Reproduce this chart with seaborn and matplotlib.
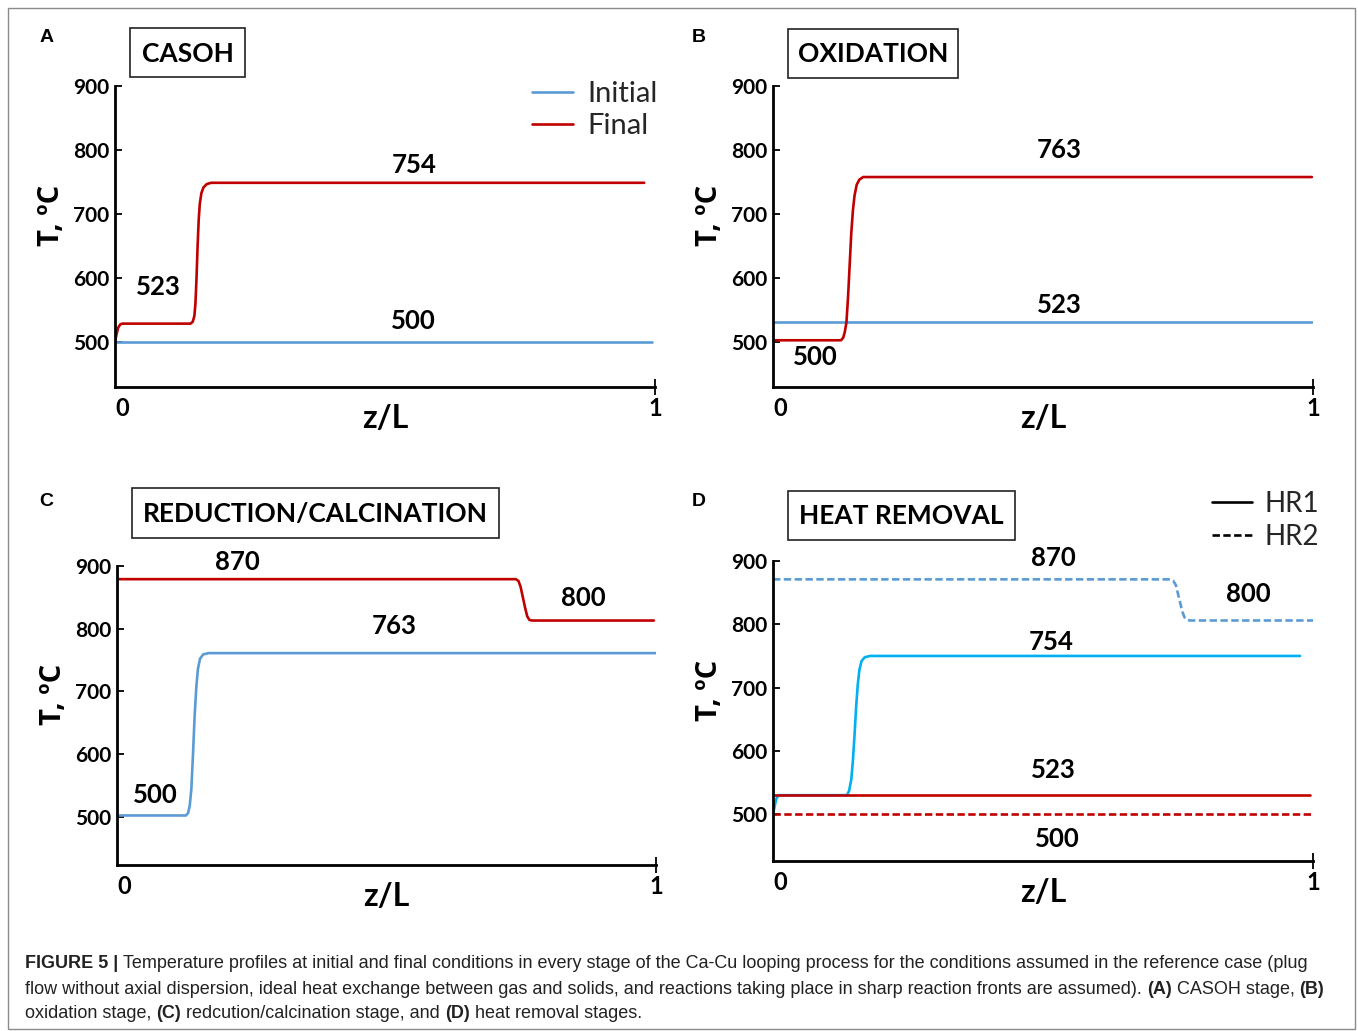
import numpy as np
import pandas as pd
import matplotlib
matplotlib.use("Agg")
import matplotlib.pyplot as plt
import seaborn as sns
from matplotlib.lines import Line2D
from matplotlib.patches import Rectangle
from matplotlib.transforms import IdentityTransform, ScaledTranslation

# ---------------- data ----------------
# Panel A : CASOH
a_initial_z = [0.0, 0.995]
a_initial_T = [500, 500]
a_final_z = [0.0, 0.003, 0.006, 0.010, 0.014, 0.140, 0.144, 0.147, 0.149, 0.151, 0.153,
             0.155, 0.157, 0.160, 0.164, 0.170, 0.178, 0.980]
a_final_T = [500, 512, 522, 527, 528, 528, 531, 540, 560, 600, 650,
             690, 715, 732, 741, 746, 748, 748]

# Panel B : OXIDATION
b_initial_z = [0.0, 0.998]
b_initial_T = [530, 530]
b_final_z = [0.0, 0.126, 0.130, 0.133, 0.136, 0.139, 0.142, 0.145, 0.148, 0.151, 0.155,
             0.160, 0.167, 0.998]
b_final_T = [502, 502, 506, 515, 530, 570, 620, 670, 705, 728, 745,
             753, 757, 757]

# Panel C : REDUCTION/CALCINATION
c_initial_z = [0.0, 0.128, 0.132, 0.135, 0.138, 0.141, 0.144, 0.147, 0.150, 0.154, 0.160,
               0.170, 1.0]
c_initial_T = [502, 502, 506, 518, 545, 600, 660, 705, 735, 752, 759,
               761, 761]
c_final_z = [0.0, 0.740, 0.745, 0.749, 0.753, 0.757, 0.761, 0.765, 0.770, 0.996]
c_final_T = [879, 879, 876, 866, 850, 834, 820, 814, 813, 813]

# Panel D : HEAT REMOVAL
d_hr1_initial_z = [0.0, 0.003, 0.006, 0.010, 0.137, 0.141, 0.145, 0.148, 0.151, 0.154,
                   0.157, 0.160, 0.164, 0.170, 0.180, 0.976]
d_hr1_initial_T = [500, 512, 524, 530, 530, 537, 555, 585, 625, 670,
                   705, 728, 742, 748, 750, 750]
d_hr1_final_z = [0.0, 0.995]
d_hr1_final_T = [530, 530]
d_hr2_initial_z = [0.0, 0.735, 0.741, 0.746, 0.750, 0.754, 0.758, 0.762, 0.767, 0.772, 1.0]
d_hr2_initial_T = [871, 871, 869, 862, 848, 834, 820, 811, 807, 806, 806]
d_hr2_final_z = [0.0, 1.0]
d_hr2_final_T = [500, 500]

panel_titles = ["CASOH", "OXIDATION", "REDUCTION/CALCINATION", "HEAT REMOVAL"]
panel_letters = ["A", "B", "C", "D"]
y_ticks = [500, 600, 700, 800, 900]
x_tick_labels = ["0", "1"]
legend_a_labels = ["Initial", "Final"]
legend_d_labels = ["HR1", "HR2"]

# annotations (text, z, T)
a_notes = [("754", 0.554, 776), ("523", 0.080, 585), ("500", 0.552, 532)]
b_notes = [("763", 0.531, 799), ("523", 0.531, 557), ("500", 0.078, 476)]
c_notes = [("870", 0.223, 906), ("800", 0.865, 849), ("763", 0.514, 804), ("500", 0.071, 535)]
d_notes = [("870", 0.519, 905), ("800", 0.880, 848), ("754", 0.515, 772), ("523", 0.520, 569), ("500", 0.527, 461)]

BLUE = "#5b9bd5"
RED = "#c00000"
CYAN = "#00b0f0"

# ---------------- figure ----------------
W, H = 1358, 1031
sns.set_theme(style="white")
plt.rcParams["font.family"] = ["Lato", "DejaVu Sans"]
fig = plt.figure(figsize=(W / 100, H / 100), dpi=100)
fig.patch.set_facecolor("white")


def fx(px):
    return px / W


def fy(py):
    return 1 - py / H


# axes geometry in pixels: left, right, top(900), bottom(x-axis), ymin
geo = [
    (115, 655, 85.5, 387, 429),
    (773, 1313, 85.5, 387, 429),
    (117, 656, 566, 865, 423),
    (773, 1313, 561, 861, 426),
]
axes = []
for (l, r, t, b, ymin) in geo:
    ax = fig.add_axes([fx(l), fy(b), (r - l) / W, (b - t) / H])
    ax.set_xlim(0, 1)
    ax.set_ylim(ymin, 900)
    axes.append(ax)

LW = 1.9


def draw(ax, z, T, color, ls="-"):
    df = pd.DataFrame({"z": z, "T": T})
    sns.lineplot(data=df, x="z", y="T", ax=ax, color=color, linewidth=LW,
                 linestyle=ls, legend=False, sort=False, estimator=None)
    ax.lines[-1].set_solid_joinstyle("round")


dash = (0, (2.8, 1.3))
draw(axes[0], a_initial_z, a_initial_T, BLUE)
draw(axes[0], a_final_z, a_final_T, RED)
draw(axes[1], b_initial_z, b_initial_T, BLUE)
draw(axes[1], b_final_z, b_final_T, RED)
draw(axes[2], c_initial_z, c_initial_T, BLUE)
draw(axes[2], c_final_z, c_final_T, RED)
draw(axes[3], d_hr2_initial_z, d_hr2_initial_T, BLUE, dash)
draw(axes[3], d_hr1_initial_z, d_hr1_initial_T, CYAN)
draw(axes[3], d_hr1_final_z, d_hr1_final_T, RED)
draw(axes[3], d_hr2_final_z, d_hr2_final_T, RED, dash)

notes = [a_notes, b_notes, c_notes, d_notes]
ylab_y = [0.57, 0.57, 0.57, 0.57]
for i, ax in enumerate(axes):
    for s in ["top", "right"]:
        ax.spines[s].set_visible(False)
    for s in ["left", "bottom"]:
        ax.spines[s].set_color("black")
        ax.spines[s].set_linewidth(2.0)
    ax.set_yticks(y_ticks)
    ax.set_yticklabels([str(v) for v in y_ticks], fontsize=15, fontweight="bold")
    ax.set_xticks([0, 1])
    ax.set_xticklabels(x_tick_labels, fontsize=17, fontweight="bold")
    ax.tick_params(axis="y", direction="in", length=5, width=1.3, pad=4, colors="black", left=True)
    ax.tick_params(axis="x", direction="inout", length=12, width=1.3, pad=1, colors="black", bottom=True)
    ax.xaxis.get_major_ticks()[0].tick1line.set_visible(False)
    lab0 = ax.get_xticklabels()[0]
    lab0.set_transform(lab0.get_transform() + ScaledTranslation(7 / 100, 0, fig.dpi_scale_trans))
    ax.set_xlabel("z/L", fontsize=23, fontweight="bold", color="black")
    ax.xaxis.set_label_coords(0.5, -0.058)
    ax.set_ylabel("T, ºC", fontsize=21, fontweight="bold", color="black",
                  family=["Open Sans", "DejaVu Sans"])
    ax.yaxis.set_label_coords(-0.091, ylab_y[i])
    ax.grid(False)
    for (txt, zx, ty) in notes[i]:
        ax.text(zx, ty, txt, fontsize=18.5, ha="center", va="center", color="black",
                fontweight="bold")

# title boxes (pixel rects)
boxes = [(130, 28, 245, 77), (788, 29, 958, 78), (132, 488, 499, 538), (788, 491, 1015, 540)]
for (x0, y0, x1, y1), title in zip(boxes, panel_titles):
    fig.patches.append(Rectangle((fx(x0), fy(y1)), (x1 - x0) / W, (y1 - y0) / H,
                                 transform=fig.transFigure, facecolor="white",
                                 edgecolor="#222222", linewidth=1.2))
    fig.text(fx((x0 + x1) / 2), fy((y0 + y1) / 2 + 1), title, fontsize=19, fontweight="bold",
             ha="center", va="center", color="black")

# panel letters
for (px, py), letter in zip([(47, 37), (699, 37), (46, 501), (699, 501)], panel_letters):
    fig.text(fx(px), fy(py), letter, fontsize=14, fontweight="bold", ha="center", va="center",
             family=["Liberation Sans", "DejaVu Sans"], color="black")

# legends
ha = [Line2D([], [], color=BLUE, lw=LW), Line2D([], [], color=RED, lw=LW)]
axes[0].legend(ha, legend_a_labels, loc="upper left", bbox_to_anchor=(fx(532), fy(81)),
               bbox_transform=fig.transFigure, frameon=False, fontsize=21,
               handlelength=1.4, handletextpad=0.5, labelspacing=0.2, borderpad=0,
               borderaxespad=0)
hd = [Line2D([], [], color="black", lw=LW), Line2D([], [], color="black", lw=LW, linestyle=dash)]
axes[3].legend(hd, legend_d_labels, loc="upper left", bbox_to_anchor=(fx(1212), fy(491)),
               bbox_transform=fig.transFigure, frameon=False, fontsize=20,
               handlelength=1.45, handletextpad=0.45, labelspacing=0.25, borderpad=0,
               borderaxespad=0)

# figure border
fig.patches.append(Rectangle((fx(8), fy(1029)), (1355 - 8) / W, (1029 - 8) / H,
                             transform=fig.transFigure, fill=False, edgecolor="#8a8a8a",
                             linewidth=1.0))

# caption with mixed bold
cap_lines = [
    [("FIGURE 5 |", "bold"), (" Temperature profiles at initial and final conditions in every stage of the Ca-Cu looping process for the conditions assumed in the reference case (plug", "normal")],
    [("flow without axial dispersion, ideal heat exchange between gas and solids, and reactions taking place in sharp reaction fronts are assumed). ", "normal"), ("(A)", "bold"), (" CASOH stage, ", "normal"), ("(B)", "bold")],
    [("oxidation stage, ", "normal"), ("(C)", "bold"), (" redcution/calcination stage, and ", "normal"), ("(D)", "bold"), (" heat removal stages.", "normal")],
]
cap_y = [964, 989, 1014]
renderer = fig.canvas.get_renderer()
cap_family = ["Liberation Sans", "DejaVu Sans"]


def line_width(segs, size):
    tot = 0
    for txt, wgt in segs:
        t = fig.text(0, 0, txt.replace(" ", "\u00a0"), fontsize=size, fontweight=wgt,
                     family=cap_family, transform=IdentityTransform())
        tot += t.get_window_extent(renderer).width
        t.remove()
    return tot


base = 12.0
wfit = line_width(cap_lines[0], base)
cap_size = base * (1310 - 25) / wfit

for segs, py in zip(cap_lines, cap_y):
    x = 25
    for txt, wgt in segs:
        t = fig.text(x, H - py, txt.replace(" ", "\u00a0"), fontsize=cap_size, fontweight=wgt,
                     family=cap_family, transform=IdentityTransform(), va="center",
                     ha="left", color="#222222")
        x += t.get_window_extent(renderer).width

fig.savefig("out.png", dpi=100, facecolor="white")
